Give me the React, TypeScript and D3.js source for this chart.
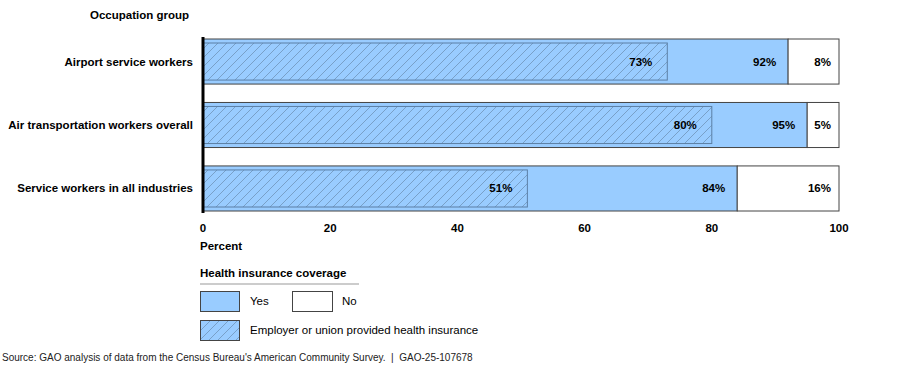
import React from "react";
import * as d3 from "d3";

const categories = [
  "Airport service workers",
  "Air transportation workers overall",
  "Service workers in all industries",
];
const yesValues = [92, 95, 84];
const noValues = [8, 5, 16];
const employerValues = [73, 80, 51];
const xTicks = [0, 20, 40, 60, 80, 100];

const font = "Liberation Sans, Arial, sans-serif";
const blue = "#99ccff";

const App = () => {
  const x = d3.scaleLinear().domain([0, 100]).range([203, 839]);
  const y = d3.scaleBand().domain(categories).range([39, 211]).paddingInner(0.29);
  const bh = y.bandwidth();

  return (
    <svg width={900} height={366} style={{ position: "absolute", left: 0, top: 0 }} fontFamily={font}>
      <defs>
        <pattern id="hatch" patternUnits="userSpaceOnUse" width={9} height={9}>
          <rect width={9} height={9} fill={blue} />
          <path d="M-1,10 L10,-1 M-2,2 L2,-2 M7,11 L11,7" stroke="#6a8cb0" strokeWidth={0.7} />
        </pattern>
      </defs>

      <text x={189} y={19} textAnchor="end" fontSize={11.5} fontWeight="bold">Occupation group</text>

      {categories.map((c, i) => {
        const top = y(c) as number;
        const yes = yesValues[i];
        const no = noValues[i];
        const emp = employerValues[i];
        const mid = top + bh / 2;
        return (
          <g key={c}>
            <text x={193} y={mid + 4} textAnchor="end" fontSize={11.5} fontWeight="bold">{c}</text>
            <rect x={x(0)} y={top} width={x(yes) - x(0)} height={bh} fill={blue} stroke="#444" strokeWidth={1} />
            <rect x={x(yes)} y={top} width={x(yes + no) - x(yes)} height={bh} fill="#fff" stroke="#444" strokeWidth={1} />
            <rect x={x(0)} y={top + 4} width={x(emp) - x(0)} height={bh - 8} fill="url(#hatch)" stroke="#5b7fa6" strokeWidth={1} />
            <text x={x(emp) - 15} y={mid + 4} textAnchor="end" fontSize={11.5} fontWeight="bold">{emp}%</text>
            <text x={x(yes) - 12} y={mid + 4} textAnchor="end" fontSize={11.5} fontWeight="bold">{yes}%</text>
            <text x={x(100) - 8} y={mid + 4} textAnchor="end" fontSize={11.5} fontWeight="bold">{no}%</text>
          </g>
        );
      })}

      <line x1={x(0)} x2={x(0)} y1={37} y2={213} stroke="#000" strokeWidth={3} />

      {xTicks.map((t) => (
        <text key={t} x={x(t)} y={232} textAnchor="middle" fontSize={11.5} fontWeight="bold">{t}</text>
      ))}
      <text x={200} y={250} fontSize={11.5} fontWeight="bold">Percent</text>

      <text x={200} y={277} fontSize={11.5} fontWeight="bold">Health insurance coverage</text>
      <line x1={200} x2={359} y1={284} y2={284} stroke="#999" strokeWidth={1} />
      <rect x={200.5} y={291.5} width={39} height={20} fill={blue} stroke="#444" />
      <text x={250} y={305} fontSize={11.5}>Yes</text>
      <rect x={292.5} y={291.5} width={40} height={20} fill="#fff" stroke="#444" />
      <text x={342} y={305} fontSize={11.5}>No</text>
      <rect x={200.5} y={320.5} width={39} height={20} fill="url(#hatch)" stroke="#444" />
      <text x={250} y={334} fontSize={11.5}>Employer or union provided health insurance</text>

      <text x={2} y={361} fontSize={10} fill="#222" style={{ whiteSpace: "pre" }}>
        {"Source: GAO analysis of data from the Census Bureau's American Community Survey.  |  GAO-25-107678"}
      </text>
    </svg>
  );
};

export default App;
